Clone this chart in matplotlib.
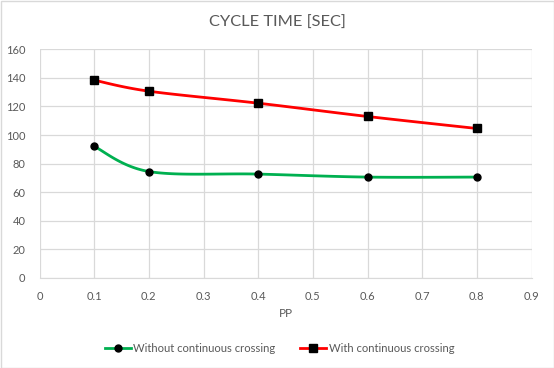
import numpy as np
import matplotlib
matplotlib.use("Agg")
import matplotlib.pyplot as plt
from matplotlib.lines import Line2D
from matplotlib.patches import Rectangle

pp = [0.1, 0.2, 0.4, 0.6, 0.8]
without_cc = [92.1, 74.5, 72.7, 70.6, 70.6]
with_cc = [138.4, 130.7, 122.3, 113.0, 104.6]
title = "CYCLE TIME [SEC]"
xlabel = "PP"
labels = ["Without continuous crossing", "With continuous crossing"]

plt.rcParams['font.family'] = ['Lato', 'DejaVu Sans']
GRAY = '#595959'
GRID = '#d9d9d9'


def smooth(xs, ys, n=30, t=1/6):
    # Bezier smoothing similar to spreadsheet "smoothed line" rendering
    xs = np.asarray(xs, float); ys = np.asarray(ys, float)
    px, py = [], []
    for i in range(len(xs) - 1):
        p0 = (xs[max(i - 1, 0)], ys[max(i - 1, 0)])
        p1 = (xs[i], ys[i])
        p2 = (xs[i + 1], ys[i + 1])
        p3 = (xs[min(i + 2, len(xs) - 1)], ys[min(i + 2, len(ys) - 1)])
        c1 = (p1[0] + (p2[0] - p0[0]) * t, p1[1] + (p2[1] - p0[1]) * t)
        c2 = (p2[0] - (p3[0] - p1[0]) * t, p2[1] - (p3[1] - p1[1]) * t)
        s = np.linspace(0, 1, n)
        bx = (1-s)**3*p1[0] + 3*(1-s)**2*s*c1[0] + 3*(1-s)*s**2*c2[0] + s**3*p2[0]
        by = (1-s)**3*p1[1] + 3*(1-s)**2*s*c1[1] + 3*(1-s)*s**2*c2[1] + s**3*p2[1]
        px.extend(bx); py.extend(by)
    return px, py


fig = plt.figure(figsize=(5.54, 3.68), dpi=100)
ax = fig.add_axes([39.5/554, 1 - 278/368, (531.5-39.5)/554, (278-49.3)/368])

gx, gy = smooth(pp, without_cc)
ax.plot(gx, gy, color='#00b050', lw=2, zorder=3)
ax.plot(pp, without_cc, 'o', color='black', ms=5, zorder=4)
rx, ry = smooth(pp, with_cc)
ax.plot(rx, ry, color='#ff0000', lw=2, zorder=3)
ax.plot(pp, with_cc, 's', color='black', ms=5.3, zorder=4)

ax.set_xlim(0, 0.9)
ax.set_ylim(0, 160)
ax.set_xticks(np.arange(0, 0.91, 0.1))
ax.set_xticklabels(['0'] + [f"{v:.1f}" for v in np.arange(0.1, 0.91, 0.1)])
ax.set_yticks(np.arange(0, 161, 20))
ax.grid(True, color=GRID, lw=0.9)
ax.set_axisbelow(True)
for s in ['top', 'right', 'left']:
    ax.spines[s].set_visible(False)
ax.spines['bottom'].set_color(GRID)
ax.tick_params(length=0, colors=GRAY, labelsize=8)
ax.tick_params(axis='x', pad=9)
ax.tick_params(axis='y', pad=10)
ax.set_xlabel(xlabel, color=GRAY, fontsize=8.5, labelpad=4.5)
fig.text(0.5, 1 - 22.5/368, title, ha='center', va='center', fontsize=11.8, color=GRAY)

handles = [
    Line2D([], [], color='#00b050', lw=2, marker='o', mfc='black', mec='black', ms=5),
    Line2D([], [], color='#ff0000', lw=2, marker='s', mfc='black', mec='black', ms=5.3),
]
fig.legend(handles, labels, loc='center', bbox_to_anchor=(279.5/554, 1 - 348/368), ncol=2,
           frameon=False, fontsize=8.1, labelcolor=GRAY, handlelength=2.3,
           handletextpad=0.2, columnspacing=2.25)

fig.patches.append(Rectangle((0.5/554, 0.5/368), 1 - 1/554, 1 - 1/368,
                             transform=fig.transFigure, fill=False,
                             edgecolor=GRID, lw=1))
fig.savefig("out.png", dpi=100)
